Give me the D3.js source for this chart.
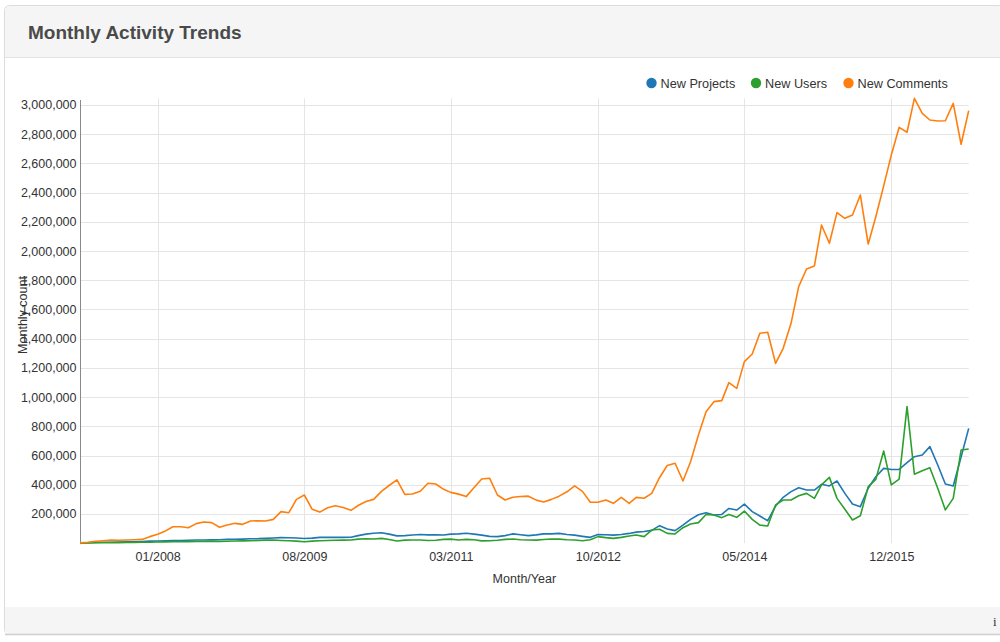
<!DOCTYPE html>
<html>
<head>
<meta charset="utf-8">
<script src="https://cdn.jsdelivr.net/npm/d3@7"></script>
<style>
  html, body { margin: 0; padding: 0; background: #fff; }
  svg { display: block; font-family: "Liberation Sans", Arial, sans-serif; }
</style>
</head>
<body>
<svg id="chart" width="1000" height="642"></svg>
<script>
// ---------- data ----------
const title = "Monthly Activity Trends";
const seriesNames = ["New Projects", "New Users", "New Comments"];
const seriesColors = ["#1f77b4", "#2ca02c", "#ff7f0e"];
const firstMonth = "2007-03";
const lastMonth = "2016-10";
const xTickLabels = ["01/2008", "08/2009", "03/2011", "10/2012", "05/2014", "12/2015"];
const yTickValues = [200000, 400000, 600000, 800000, 1000000, 1200000, 1400000, 1600000,
  1800000, 2000000, 2200000, 2400000, 2600000, 2800000, 3000000];

const newProjects = [
  2000, 3000, 5000, 6000, 7000, 8000, 9000, 10000, 12000, 14000,
  15000, 17000, 18000, 19000, 20000, 22000, 22000, 23000, 24000, 26000,
  27000, 28000, 30000, 31000, 33000, 36000, 38000, 37000, 36000, 32000,
  35000, 40000, 40000, 41000, 40000, 41000, 52000, 62000, 68000, 72000,
  62000, 50000, 52000, 56000, 60000, 57000, 58000, 56000, 62000, 64000,
  68000, 62000, 55000, 47000, 45000, 52000, 64000, 58000, 52000, 57000,
  64000, 64000, 67000, 60000, 55000, 47000, 40000, 60000, 58000, 55000,
  60000, 67000, 76000, 80000, 88000,
  120000, 97000, 86000, 124000, 163000, 195000, 209000, 193000, 197000, 238000,
  227000, 268000, 216000, 186000, 154000, 254000, 314000, 353000, 380000, 364000,
  364000, 403000, 392000, 426000, 341000, 268000, 250000, 376000, 455000, 512000,
  505000, 505000, 551000, 592000, 604000, 661000, 535000, 405000, 392000, 590000,
  786000
];
const newUsers = [
  1000, 2000, 3000, 3000, 4000, 4000, 5000, 5000, 6000, 7000,
  8000, 9000, 10000, 10000, 11000, 12000, 12000, 13000, 12000, 13000,
  15000, 16000, 17000, 19000, 21000, 22000, 19000, 17000, 14000, 10000,
  14000, 17000, 18000, 20000, 21000, 22000, 28000, 30000, 29000, 33000,
  25000, 15000, 21000, 22000, 22000, 18000, 20000, 26000, 28000, 22000,
  26000, 24000, 16000, 17000, 20000, 26000, 29000, 24000, 22000, 21000,
  25000, 29000, 28000, 24000, 22000, 17000, 24000, 45000, 38000, 33000,
  40000, 49000, 56000, 45000, 90000,
  95000, 67000, 63000, 106000, 131000, 141000, 197000, 193000, 175000, 197000,
  177000, 220000, 163000, 124000, 118000, 262000, 296000, 296000, 325000, 341000,
  307000, 399000, 451000, 307000, 232000, 159000, 188000, 387000, 437000, 631000,
  399000, 439000, 935000, 472000, 496000, 517000, 376000, 228000, 307000, 638000,
  645000
];
const newComments = [
  2000, 6000, 13000, 17000, 22000, 20000, 22000, 24000, 26000, 45000,
  61000, 84000, 113000, 113000, 106000, 134000, 145000, 141000, 109000, 125000,
  136000, 129000, 152000, 154000, 152000, 163000, 216000, 209000, 300000, 330000,
  232000, 213000, 243000, 256000, 245000, 225000, 258000, 285000, 300000, 355000,
  395000, 433000, 334000, 337000, 356000, 410000, 405000, 369000, 348000, 336000,
  319000, 381000, 440000, 445000, 330000, 296000, 315000, 320000, 322000, 295000,
  282000, 300000, 322000, 352000, 392000, 355000, 280000, 280000, 296000, 273000,
  314000, 273000, 314000, 308000, 341000, 450000, 532000, 547000, 426000, 558000,
  741000, 900000, 969000, 976000, 1099000, 1060000, 1243000, 1295000, 1437000, 1444000,
  1231000, 1334000, 1505000, 1756000, 1877000, 1898000, 2178000, 2053000, 2263000, 2224000,
  2247000, 2384000, 2048000, 2235000, 2446000, 2657000, 2847000, 2813000, 3045000, 2943000,
  2897000, 2890000, 2892000, 3011000, 2731000, 2961000
];

// ---------- layout ----------
const svg = d3.select("#chart");
const plot = { left: 80, right: 968.7, top: 98.4, bottom: 543.2 };

const parseMonth = d3.timeParse("%Y-%m");
const months = d3.timeMonth.range(parseMonth(firstMonth), d3.timeMonth.offset(parseMonth(lastMonth), 1));
const parseTick = d3.timeParse("%m/%Y");
const xTickDates = xTickLabels.map(parseTick);

const series = [newProjects, newUsers, newComments].map((vals, k) => ({
  name: seriesNames[k], color: seriesColors[k],
  values: vals.map((v, i) => ({ date: months[i], value: v }))
}));

// card
svg.append("rect").attr("x", 4.5).attr("y", 5.5).attr("width", 1000).attr("height", 629)
  .attr("rx", 5).attr("fill", "#fff").attr("stroke", "#dcdcdc");
// header
svg.append("path")
  .attr("d", "M5,57 L5,11 Q5,6 10,6 L1000,6 L1000,57 Z")
  .attr("fill", "#f5f5f5");
svg.append("line").attr("x1", 5).attr("x2", 1000).attr("y1", 57.5).attr("y2", 57.5)
  .attr("stroke", "#e3e3e3");
svg.append("text").attr("x", 28).attr("y", 38.5).text(title)
  .attr("font-size", 19).attr("font-weight", "bold").attr("fill", "#4a4a4a");
// footer
svg.append("rect").attr("x", 5).attr("y", 607).attr("width", 995).attr("height", 27)
  .attr("fill", "#f5f5f5");
svg.append("line").attr("x1", 5).attr("x2", 1000).attr("y1", 634.5).attr("y2", 634.5)
  .attr("stroke", "#cfcfcf").attr("stroke-width", 1.5);
svg.append("text").attr("x", 993).attr("y", 626).text("i")
  .attr("font-family", "Liberation Serif, serif").attr("font-size", 13).attr("fill", "#333");

// scales
const x = d3.scaleTime().domain([months[0], months[months.length - 1]]).range([plot.left, plot.right]);
const y = d3.scaleLinear().domain([0, d3.max(newComments)]).range([plot.bottom, plot.top]);

// grid
const g = svg.append("g");
g.selectAll(".hgrid").data(yTickValues).join("line")
  .attr("x1", plot.left).attr("x2", plot.right)
  .attr("y1", d => Math.round(y(d)) + 0.5).attr("y2", d => Math.round(y(d)) + 0.5)
  .attr("stroke", "#e5e5e5");
g.selectAll(".vgrid").data(xTickDates).join("line")
  .attr("x1", d => Math.round(x(d)) + 0.5).attr("x2", d => Math.round(x(d)) + 0.5)
  .attr("y1", plot.top).attr("y2", plot.bottom)
  .attr("stroke", "#e5e5e5");

// y axis
const yAxis = d3.axisLeft(y).tickValues(yTickValues).tickSize(0).tickPadding(3.5)
  .tickFormat(d3.format(","));
const ya = svg.append("g").attr("transform", `translate(${plot.left},0)`).call(yAxis);
ya.select(".domain").remove();
ya.selectAll("text").attr("font-size", 12.5).attr("fill", "#333")
  .attr("font-family", "Liberation Sans, Arial, sans-serif");
svg.append("line").attr("x1", plot.left + 0.5).attr("x2", plot.left + 0.5)
  .attr("y1", 100).attr("y2", plot.bottom + 1).attr("stroke", "#8a8a8a").attr("stroke-width", 1);

// x axis
const xAxis = d3.axisBottom(x).tickValues(xTickDates).tickSize(0).tickPadding(8.5)
  .tickFormat(d3.timeFormat("%m/%Y"));
const xa = svg.append("g").attr("transform", `translate(0,${plot.bottom})`).call(xAxis);
xa.select(".domain").remove();
xa.selectAll("text").attr("font-size", 12.5).attr("fill", "#333")
  .attr("font-family", "Liberation Sans, Arial, sans-serif");

// axis labels
svg.append("text").attr("x", (plot.left + plot.right) / 2).attr("y", 582.5)
  .attr("text-anchor", "middle").attr("font-size", 12.5).attr("fill", "#333").text("Month/Year");
svg.append("text").attr("transform", "translate(27,315) rotate(-90)")
  .attr("text-anchor", "middle").attr("font-size", 12.5).attr("fill", "#333").text("Monthly count");

// lines
const line = d3.line().x(d => x(d.date)).y(d => y(d.value));
svg.append("g").selectAll("path").data(series).join("path")
  .attr("d", d => line(d.values))
  .attr("fill", "none").attr("stroke", d => d.color).attr("stroke-width", 1.6)
  .attr("stroke-linejoin", "round");

// legend
const legendX = [651.5, 756, 848.5];
const lg = svg.append("g").selectAll("g").data(series).join("g")
  .attr("transform", (d, i) => `translate(${legendX[i]},83)`);
lg.append("circle").attr("r", 5.2).attr("fill", d => d.color);
lg.append("text").attr("x", 9).attr("y", 4.5).attr("font-size", 12.7).attr("fill", "#333")
  .text(d => d.name);
</script>
</body>
</html>
